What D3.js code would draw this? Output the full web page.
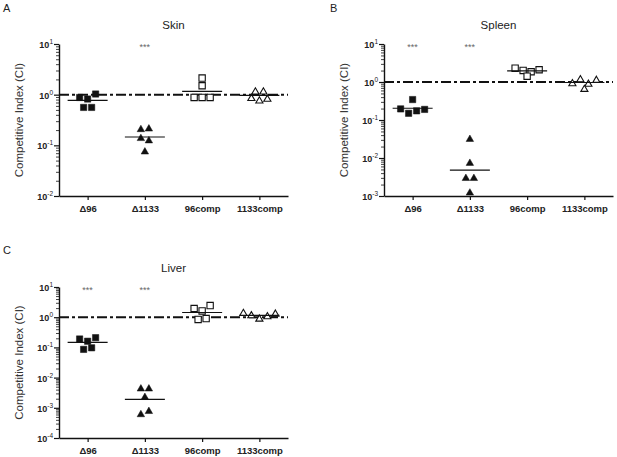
<!DOCTYPE html>
<html><head><meta charset="utf-8">
<script src="https://cdn.jsdelivr.net/npm/d3@7"></script>
<style>
body{margin:0;background:#fff;}
svg{display:block;font-family:"Liberation Sans",Arial,sans-serif;}
</style></head>
<body>
<svg id="chart" width="617" height="457"></svg>
<script>
// ---------- data ----------
const categories = ["Δ96", "Δ1133", "96comp", "1133comp"];
const markerTypes = ["filledSquare", "filledTriangle", "openSquare", "openTriangle"];

const skinValues = [
  [0.88, 0.82, 1.03, 0.56, 0.56],
  [0.21, 0.216, 0.14, 0.126, 0.076],
  [2.13, 1.5, 0.88, 0.88, 0.88],
  [1.16, 1.16, 0.86, 0.77, 0.83]
];
const skinMeans = [0.77, 0.146, 1.16, 0.97];
const skinSig = ["", "***", "", ""];

const spleenValues = [
  [0.345, 0.196, 0.150, 0.174, 0.19],
  [0.032, 0.0075, 0.0030, 0.0030, 0.00124],
  [2.31, 2.01, 1.86, 2.10, 1.42],
  [0.93, 1.19, 0.90, 1.14, 0.66]
];
const spleenMeans = [0.204, 0.0048, 1.97, 0.97];
const spleenSig = ["***", "***", "", ""];

const liverValues = [
  [0.19, 0.16, 0.21, 0.086, 0.097],
  [0.0044, 0.0044, 0.0023, 0.00062, 0.00079],
  [1.94, 1.61, 2.43, 0.84, 0.90],
  [1.39, 1.16, 0.90, 1.08, 1.32]
];
const liverMeans = [0.146, 0.0019, 1.43, 1.15];
const liverSig = ["***", "***", "", ""];

const skinExponents = [-2, -1, 0, 1];
const spleenExponents = [-3, -2, -1, 0, 1];
const liverExponents = [-4, -3, -2, -1, 0, 1];
const referenceValue = 1;
const yLabel = "Competitive Index (CI)";

// ---------- drawing ----------
const svg = d3.select("#chart");

function drawPanel(cfg) {
  const g = svg.append("g");
  const {left, right, top, bottom} = cfg;
  const x = d3.scalePoint().domain(categories).range([left, right]).padding(0.5);
  const y = d3.scaleLog()
    .domain([Math.pow(10, d3.min(cfg.exps)), Math.pow(10, d3.max(cfg.exps))])
    .range([bottom, top]);

  // panel letter
  g.append("text").attr("x", cfg.letterX).attr("y", cfg.letterY)
    .attr("font-size", 11).attr("fill", "#222").text(cfg.letter);
  // title
  g.append("text").attr("x", (left + right) / 2).attr("y", top - 15)
    .attr("text-anchor", "middle").attr("font-size", 11.5).attr("fill", "#222").text(cfg.title);
  // y label
  g.append("text")
    .attr("transform", `translate(${left - 36},${(top + bottom) / 2}) rotate(-90)`)
    .attr("text-anchor", "middle").attr("font-size", 11.5).attr("fill", "#333").text(yLabel);

  // minor ticks
  const minors = [];
  cfg.exps.slice(0, -1).forEach(e => { for (let k = 2; k <= 9; k++) minors.push(k * Math.pow(10, e)); });
  const minorAxis = g.append("g").attr("transform", `translate(${left},0)`)
    .call(d3.axisLeft(y).tickValues(minors).tickSize(3).tickFormat(""));
  minorAxis.select(".domain").remove();
  minorAxis.selectAll("line").attr("stroke", "#111").attr("stroke-width", 0.8);

  // major y axis
  const yAxis = g.append("g").attr("transform", `translate(${left},0)`)
    .call(d3.axisLeft(y).tickValues(cfg.exps.map(e => Math.pow(10, e))).tickSize(5).tickSizeOuter(0).tickFormat(""));
  yAxis.select(".domain").attr("stroke", "#111").attr("stroke-width", 1.4);
  yAxis.selectAll("line").attr("stroke", "#111").attr("stroke-width", 1.2);
  yAxis.selectAll(".tick").each(function(d) {
    const e = Math.round(Math.log10(d));
    const t = d3.select(this).append("text")
      .attr("x", -6).attr("y", 3.5).attr("text-anchor", "end")
      .attr("font-size", 9).attr("font-weight", "bold").attr("fill", "#222");
    t.append("tspan").text("10");
    t.append("tspan").attr("dy", -4).attr("font-size", 6.5).attr("font-weight", "normal").text(e < 0 ? "-" + (-e) : String(e));
  });

  // x axis
  const xAxis = g.append("g").attr("transform", `translate(0,${bottom})`)
    .call(d3.axisBottom(x).tickSize(4).tickSizeOuter(0));
  xAxis.select(".domain").attr("stroke", "#111").attr("stroke-width", 1.4);
  xAxis.selectAll("line").attr("stroke", "#111").attr("stroke-width", 1.2);
  xAxis.selectAll("text").attr("font-size", 9.5).attr("font-weight", "bold").attr("fill", "#222").attr("dy", "0.9em")
    .attr("font-family", "'Liberation Sans',Arial,sans-serif");

  // reference dash-dot line
  g.append("line").attr("x1", left).attr("x2", right).attr("y1", y(referenceValue)).attr("y2", y(referenceValue))
    .attr("stroke", "#111").attr("stroke-width", 2).attr("stroke-dasharray", "10,3,3,3");

  // points
  const step = 8, groupThresh = 6.5;
  categories.forEach((c, ci) => {
    const vals = cfg.values[ci];
    const pts = vals.map((v, i) => ({v, i, py: y(v)}));
    const sorted = pts.slice().sort((a, b) => a.py - b.py);
    const groups = [];
    sorted.forEach(p => {
      const gLast = groups[groups.length - 1];
      if (gLast && p.py - gLast[0].py < groupThresh) gLast.push(p); else groups.push([p]);
    });
    groups.forEach(grp => {
      grp.sort((a, b) => a.i - b.i);
      grp.forEach((p, k) => { p.px = x(c) + (k - (grp.length - 1) / 2) * step; });
    });
    const type = markerTypes[ci];
    const isSquare = type.includes("Square");
    const filled = type.startsWith("filled");
    const sym = d3.symbol().type(isSquare ? d3.symbolSquare : d3.symbolTriangle).size(isSquare ? 40 : (filled ? 24 : 22));
    g.selectAll(null).data(pts).enter().append("path")
      .attr("d", sym)
      .attr("transform", p => `translate(${p.px},${p.py + (isSquare ? 0 : 0.5)})`)
      .attr("fill", filled ? "#111" : "#fff")
      .attr("stroke", "#111").attr("stroke-width", filled ? 0.5 : 1.1);

    g.append("line").attr("x1", x(c) - 20).attr("x2", x(c) + 20)
      .attr("y1", y(cfg.means[ci])).attr("y2", y(cfg.means[ci]))
      .attr("stroke", "#111").attr("stroke-width", 1.2);

    if (cfg.sig[ci]) {
      g.append("text").attr("x", x(c)).attr("y", top + 6).attr("text-anchor", "middle")
        .attr("font-size", 9).attr("fill", "#666").text(cfg.sig[ci]);
    }
  });
}

drawPanel({letter: "A", letterX: 3, letterY: 12, title: "Skin", left: 59, right: 288, top: 44, bottom: 196,
  exps: skinExponents, values: skinValues, means: skinMeans, sig: skinSig});
drawPanel({letter: "B", letterX: 330, letterY: 12, title: "Spleen", left: 384, right: 613, top: 44, bottom: 196,
  exps: spleenExponents, values: spleenValues, means: spleenMeans, sig: spleenSig});
drawPanel({letter: "C", letterX: 3, letterY: 254, title: "Liver", left: 59, right: 288, top: 287, bottom: 438,
  exps: liverExponents, values: liverValues, means: liverMeans, sig: liverSig});
</script>
</body></html>
